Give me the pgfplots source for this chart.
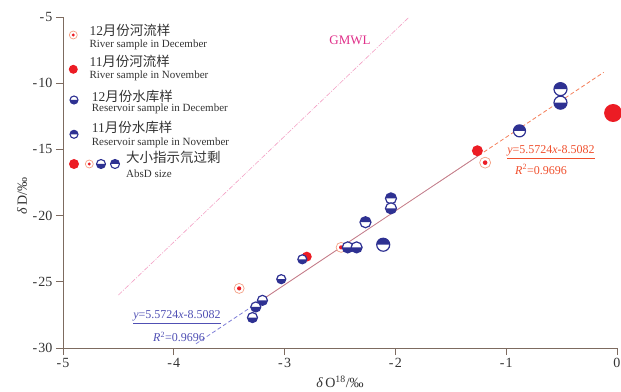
\documentclass[border=0pt]{standalone}
\usepackage{pgfplots}
\pgfplotsset{compat=1.18}
\usepackage{fontspec}
\setmainfont{Liberation Serif}
\newfontfamily\cjk{Noto Sans CJK SC}
\definecolor{axcol}{HTML}{7D6B60}
\definecolor{resblue}{HTML}{2E3192}
\definecolor{rivred}{HTML}{EC1C24}
\definecolor{ringcol}{HTML}{F4A084}
\definecolor{orangeline}{HTML}{F4805C}
\definecolor{blueline}{HTML}{7F7FD8}
\definecolor{gmwlcol}{HTML}{F3A0C4}
\definecolor{gmwltext}{HTML}{E0308A}
\definecolor{eqorange}{HTML}{F0502E}
\definecolor{eqblue}{HTML}{5050B4}
\definecolor{darktext}{HTML}{333333}

% bottom half filled (December reservoir)
\pgfdeclareplotmark{resdec}{%
  \pgfpathcircle{\pgfpointorigin}{\pgfplotmarksize}%
  \pgfsetfillcolor{white}\pgfusepath{fill}%
  \pgfpathmoveto{\pgfpoint{-\pgfplotmarksize}{0pt}}%
  \pgfpatharc{180}{360}{\pgfplotmarksize}\pgfpathclose
  \pgfsetfillcolor{resblue}\pgfusepath{fill}%
  \pgfpathcircle{\pgfpointorigin}{\pgfplotmarksize}%
  \pgfusepath{stroke}}
% top half filled (November reservoir)
\pgfdeclareplotmark{resnov}{%
  \pgfpathcircle{\pgfpointorigin}{\pgfplotmarksize}%
  \pgfsetfillcolor{white}\pgfusepath{fill}%
  \pgfpathmoveto{\pgfpoint{\pgfplotmarksize}{0pt}}%
  \pgfpatharc{0}{180}{\pgfplotmarksize}\pgfpathclose
  \pgfsetfillcolor{resblue}\pgfusepath{fill}%
  \pgfpathcircle{\pgfpointorigin}{\pgfplotmarksize}%
  \pgfusepath{stroke}}
% ring with red dot (December river)
\pgfdeclareplotmark{rivdec}{%
  \pgfpathcircle{\pgfpointorigin}{\pgfplotmarksize}%
  \pgfsetfillcolor{white}\pgfusepath{fill,stroke}%
  \pgfpathcircle{\pgfpointorigin}{0.42\pgfplotmarksize}%
  \pgfsetfillcolor{rivred}\pgfusepath{fill}}
% filled red (November river)
\pgfdeclareplotmark{rivnov}{%
  \pgfpathcircle{\pgfpointorigin}{\pgfplotmarksize}%
  \pgfsetfillcolor{rivred}\pgfusepath{fill}}

\newcommand{\legicon}[4]{%
  \begin{scope}[shift={(#3,#4)}]
  \pgfsetplotmarksize{#2}%
  \ifx#1r\pgfsetstrokecolor{ringcol}\pgfsetlinewidth{0.7pt}\pgfuseplotmark{rivdec}\fi
  \ifx#1n\pgfuseplotmark{rivnov}\fi
  \ifx#1d\pgfsetstrokecolor{resblue}\pgfsetlinewidth{1.1pt}\pgfuseplotmark{resdec}\fi
  \ifx#1v\pgfsetstrokecolor{resblue}\pgfsetlinewidth{1.1pt}\pgfuseplotmark{resnov}\fi
  \end{scope}}
\newcommand{\hy}{-\kern1.2pt}

\begin{document}
\begin{tikzpicture}[x=1pt,y=1pt]
\useasboundingbox (-63,-43) rectangle (558,348);
\begin{axis}[
  at={(0,0)}, anchor=south west,
  scale only axis, width=554pt, height=331pt,
  xmin=-5, xmax=0, ymin=-30, ymax=-5,
  axis x line*=bottom, axis y line*=left,
  axis line style={axcol, line width=0.9pt},
  xtick={-5,-4,-3,-2,-1,0}, xticklabels={\hy5,\hy4,\hy3,\hy2,\hy1,0},
  ytick={-30,-25,-20,-15,-10,-5}, yticklabels={\hy30,\hy25,\hy20,\hy15,\hy10,\hy5},
  tick align=outside, major tick length=7pt,
  tick style={axcol, line width=0.9pt},
  tick label style={font=\fontsize{14}{14}\selectfont, text=darktext},
  clip=false]

% GMWL
\addplot[gmwlcol, line width=0.6pt, dash pattern=on 5pt off 1.5pt on 1pt off 1.5pt] coordinates {(-4.5,-26) (-1.875,-5)};
% regression lines
\addplot[blueline, line width=0.8pt, dash pattern=on 4pt off 2.5pt] coordinates {(-3.8,-29.68) (-3.25,-26.62)};
\addplot[orangeline, line width=0.8pt] coordinates {(-3.25,-26.62) (-1.25,-15.47)};
\addplot[blueline, line width=0.4pt, opacity=0.7] coordinates {(-3.25,-26.62) (-1.25,-15.47)};
\addplot[orangeline, line width=0.8pt, dash pattern=on 4pt off 2.5pt] coordinates {(-1.25,-15.47) (-0.12,-9.18)};

% November river (filled red)
\addplot[only marks, mark=rivnov, mark size=9pt] coordinates {(-0.035,-12.25)};
\addplot[only marks, mark=rivnov, mark size=5.5pt] coordinates {(-1.26,-15.1)};
\addplot[only marks, mark=rivnov, mark size=5pt] coordinates {(-2.80,-23.1)};
% December river (ring)
\addplot[only marks, mark=rivdec, mark size=5.5pt, mark options={draw=ringcol, line width=0.7pt}] coordinates {(-1.19,-16.0)};
\addplot[only marks, mark=rivdec, mark size=5pt, mark options={draw=ringcol, line width=0.7pt}] coordinates {(-2.49,-22.4) (-3.41,-25.5)};

% November reservoir (top half)
\addplot[only marks, mark=resnov, mark size=6.5pt, mark options={draw=resblue, line width=1.2pt}] coordinates {(-0.51,-10.45) (-2.11,-22.2)};
\addplot[only marks, mark=resnov, mark size=6pt, mark options={draw=resblue, line width=1.2pt}] coordinates {(-0.88,-13.6)};
\addplot[only marks, mark=resnov, mark size=5.5pt, mark options={draw=resblue, line width=1.2pt}] coordinates {(-2.04,-18.7) (-2.27,-20.5)};
% December reservoir (bottom half)
\addplot[only marks, mark=resdec, mark size=6.5pt, mark options={draw=resblue, line width=1.2pt}] coordinates {(-0.51,-11.47)};
\addplot[only marks, mark=resdec, mark size=5.5pt, mark options={draw=resblue, line width=1.2pt}] coordinates {(-2.04,-19.45) (-2.43,-22.4) (-2.35,-22.4)};
\addplot[only marks, mark=resdec, mark size=5pt, mark options={draw=resblue, line width=1.2pt}] coordinates {(-3.20,-26.4) (-3.26,-26.9) (-3.29,-27.7)};
\addplot[only marks, mark=resdec, mark size=4.5pt, mark options={draw=resblue, line width=1.2pt}] coordinates {(-2.84,-23.3) (-3.03,-24.8)};

% labels
\node[text=gmwltext, font=\fontsize{13}{13}\selectfont] at (axis cs:-2.41,-6.74) {GMWL};
\node[text=eqorange, font=\fontsize{12}{12}\selectfont] at (axis cs:-0.596,-15.2) {\underline{\textit{y}=5.5724\textit{x}-8.5082}};
\node[text=eqorange, font=\fontsize{12}{12}\selectfont] at (axis cs:-0.686,-16.52) {\textit{R}\textsuperscript{2}=0.9696};
\node[text=eqblue, font=\fontsize{12}{12}\selectfont] at (axis cs:-3.971,-27.66) {\underline{\textit{y}=5.5724\textit{x}-8.5082}};
\node[text=eqblue, font=\fontsize{12}{12}\selectfont] at (axis cs:-3.953,-29.17) {\textit{R}\textsuperscript{2}=0.9696};
\end{axis}

% axis titles
\node[text=darktext, font=\fontsize{14}{14}\selectfont] at (277,-34) {\textit{δ}\,O\textsuperscript{18}/‰};
\node[text=darktext, font=\fontsize{14}{14}\selectfont, rotate=90] at (-41,152) {\textit{δ}\,D/‰};

% legend
\legicon{r}{4pt}{10.3}{313}
\legicon{n}{4.5pt}{10.3}{278.7}
\legicon{d}{4pt}{11}{248}
\legicon{v}{4pt}{11}{213.7}
\legicon{n}{5pt}{11}{184}
\legicon{r}{4pt}{26.3}{184}
\legicon{d}{4.5pt}{38}{184}
\legicon{v}{4.5pt}{52}{184}
\begin{scope}[every node/.style={anchor=west, inner sep=0pt, text=darktext}]
\node[font=\fontsize{13.5}{13.5}\selectfont] at (26.3,317.3) {12{\cjk 月份河流样}};
\node[font=\fontsize{11}{11}\selectfont] at (26.3,303) {River sample in December};
\node[font=\fontsize{13.5}{13.5}\selectfont] at (26.3,286.3) {11{\cjk 月份河流样}};
\node[font=\fontsize{11}{11}\selectfont] at (26.3,272) {River sample in November};
\node[font=\fontsize{13.5}{13.5}\selectfont] at (28.7,252) {12{\cjk 月份水库样}};
\node[font=\fontsize{11}{11}\selectfont] at (28.7,238.7) {Reservoir sample in December};
\node[font=\fontsize{13.5}{13.5}\selectfont] at (28.7,220.7) {11{\cjk 月份水库样}};
\node[font=\fontsize{11}{11}\selectfont] at (28.7,205.3) {Reservoir sample in November};
\node[font=\fontsize{13.5}{13.5}\selectfont] at (63,190.7) {{\cjk 大小指示氘过剩}};
\node[font=\fontsize{11}{11}\selectfont] at (63,174) {AbsD size};
\end{scope}
\end{tikzpicture}
\end{document}
